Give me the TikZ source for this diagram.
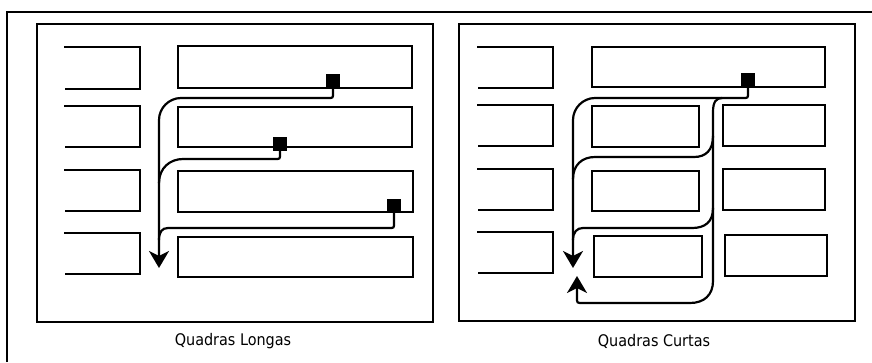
\documentclass[tikz,border=0pt]{standalone}
\usepackage{fontspec}
\setmainfont{DejaVu Sans Condensed}
\usetikzlibrary{arrows.meta}
\tikzset{
  blockline/.style={line width=2.4pt, line join=miter},
  route/.style={line width=2.2pt, line cap=round},
  marker/.style={fill=black, draw=none, minimum size=13.5pt, inner sep=0pt, outer sep=0pt},
  tip/.style={-{Stealth[length=17pt,width=20pt,inset=5pt]}},
  caption/.style={font=\fontsize{16}{19}\selectfont, inner sep=0pt}
}
\begin{document}
\begin{tikzpicture}[x=1pt,y=-1pt]
\useasboundingbox (0,0) rectangle (872,362);

% page frame (top and left edges)
\draw[line width=2.4pt] (7,362) -- (7,12) -- (872,12);

% ---------- panel: long blocks ----------
\draw[blockline] (37,24) rectangle (433,322);
% street-front stubs, open on the left
\foreach \t/\b in {47/89,106/147,170/211,233/274}
  \draw[blockline] (64,\t) -- (140,\t) -- (140,\b) -- (65,\b);
% long blocks
\draw[blockline] (178,46) rectangle (412,88);
\draw[blockline] (178,107) rectangle (412,147);
\draw[blockline] (178,171) rectangle (413,212);
\draw[blockline] (178,237) rectangle (413,277);

\node[marker] (a1) at (333,81) {};
\node[marker] (a2) at (280,144) {};
\node[marker] (a3) at (394,206) {};

\draw[route,tip] (a1.south) -- (333,93) .. controls (333,98) .. (328,98)
  -- (181,98) .. controls (169,98) and (159,108) .. (159,120) -- (159,268);
\draw[route] (a2.south) -- (280,154) .. controls (280,159) .. (275,159)
  -- (183,159) .. controls (170,159) and (159,168) .. (159,183);
\draw[route] (a3.south) -- (394,223) .. controls (394,228) .. (389,228)
  -- (168,228) .. controls (162,228) and (159,232) .. (159,240);

\node[caption] (capL) at (233,341) {Quadras Longas};

% ---------- panel: short blocks ----------
\draw[blockline] (459,24) rectangle (855,321);
\foreach \t/\b in {47/88,105/146,169/210,232/273}
  \draw[blockline] (477,\t) -- (553,\t) -- (553,\b) -- (478,\b);
\draw[blockline] (592,47) rectangle (825,87);
\draw[blockline] (592,106) rectangle (699,147);
\draw[blockline] (592,171) rectangle (699,211);
\draw[blockline] (594,236) rectangle (702,277);
\draw[blockline] (723,105) rectangle (825,146);
\draw[blockline] (723,169) rectangle (825,210);
\draw[blockline] (725,235) rectangle (827,276);

\node[marker] (b1) at (748,80) {};

% outer loop to the left trunk
\draw[route,tip] (b1.south) -- (748,93) .. controls (748,98) .. (743,98)
  -- (595,98) .. controls (583,98) and (573,108) .. (573,120) -- (573,268);
% right trunk, down and back round to the bottom
\draw[route,tip] (722,98) .. controls (716,98) and (713,102) .. (713,112)
  -- (713,281) .. controls (713,295) and (704,303) .. (690,303)
  -- (583,303) .. controls (577,303) .. (577,298) -- (577,276);
% cross links between the trunks
\draw[route] (713,136) .. controls (713,150) and (706,157) .. (694,157)
  -- (595,157) .. controls (582,157) and (573,165) .. (573,179);
\draw[route] (713,208) .. controls (713,222) and (705,228) .. (692,228)
  -- (583,228) .. controls (577,228) and (573,232) .. (573,240);

\node[caption] (capR) at (654,341) {Quadras Curtas};
\end{tikzpicture}
\end{document}
